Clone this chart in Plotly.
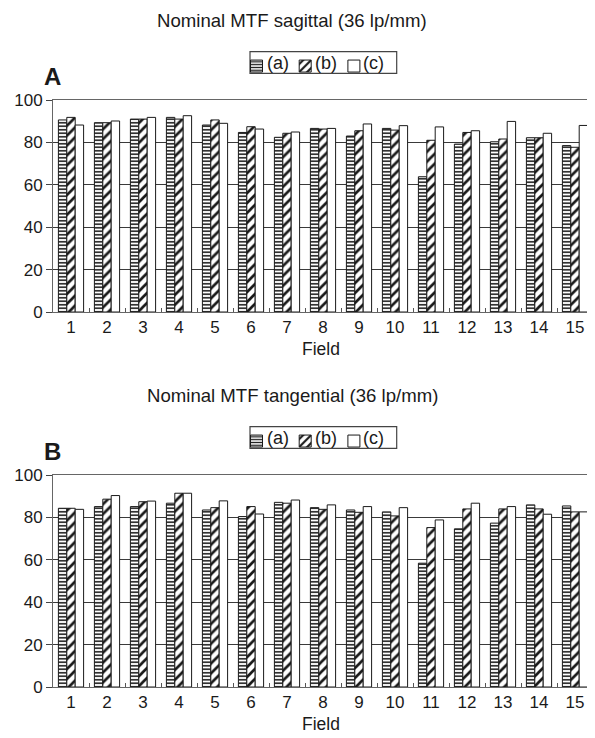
import plotly.graph_objects as go

fields = [str(i) for i in range(1, 16)]
series_names = ["(a)", "(b)", "(c)"]

sag_a = [90.6, 89.3, 91.0, 91.8, 88.2, 84.7, 82.4, 86.6, 83.0, 86.6, 63.8, 79.2, 80.3, 82.2, 78.5]
sag_b = [91.8, 89.3, 91.0, 91.0, 90.6, 87.4, 84.3, 86.3, 85.5, 85.8, 81.0, 84.7, 81.6, 82.2, 77.7]
sag_c = [88.2, 90.1, 91.8, 92.6, 89.0, 86.3, 84.9, 86.6, 88.7, 87.9, 87.3, 85.5, 89.9, 84.3, 88.0]

tan_a = [84.3, 85.1, 85.1, 86.7, 83.5, 80.4, 87.1, 84.6, 83.5, 82.6, 58.4, 74.6, 77.3, 85.9, 85.4]
tan_b = [84.3, 88.6, 87.4, 91.4, 84.6, 85.1, 86.7, 83.8, 82.4, 80.7, 75.2, 84.0, 84.0, 84.0, 82.6]
tan_c = [83.8, 90.3, 87.7, 91.4, 87.8, 81.6, 88.2, 85.9, 85.1, 84.6, 78.8, 86.7, 85.1, 81.5, 82.6]

y_ticks = [0, 20, 40, 60, 80, 100]

FONT = "Liberation Sans, Arial, sans-serif"
INK = "#1a1a1a"
# the page body has an 8px margin, so the figure is drawn 8px smaller and offset
OFF = 8
W, H = 595 - OFF, 738 - OFF


def px(X):
    return (X - OFF) / W


def py(Y):
    return 1 - (Y - OFF) / H


patterns = [
    dict(shape="-", size=3.5, solidity=0.45, fgcolor=INK, bgcolor="white", fillmode="replace"),
    dict(shape="/", size=7, solidity=0.38, fgcolor=INK, bgcolor="white", fillmode="replace"),
    dict(shape="", fgcolor=INK, bgcolor="white"),
]

fig = go.Figure()


def add_group(values, xaxis, yaxis, legend):
    for name, vals, pat in zip(series_names, values, patterns):
        fig.add_trace(go.Bar(
            x=fields, y=vals, name=" ",
            xaxis=xaxis, yaxis=yaxis, legend=legend,
            marker=dict(color="white", pattern=pat, line=dict(color=INK, width=1)),
            hovertemplate=name + " field %{x}: %{y}<extra></extra>",
        ))


add_group([sag_a, sag_b, sag_c], "x", "y", "legend")
add_group([tan_a, tan_b, tan_c], "x2", "y2", "legend2")

x_dom = [px(53), px(593)]
axis_common = dict(
    showline=True, linecolor="#666", linewidth=1, mirror=True,
    tickfont=dict(family=FONT, size=17, color=INK),
)
xcommon = dict(axis_common, type="category", ticks="inside", tickson="boundaries",
               ticklen=4, tickcolor="#555", showgrid=False, automargin=False, fixedrange=True)
ycommon = dict(axis_common, range=[0, 100], tickvals=y_ticks, ticks="outside", ticklen=6,
               tickcolor="#444", showgrid=True, gridcolor="#3a3a3a", gridwidth=1,
               zeroline=False, automargin=False, fixedrange=True)

legend_common = dict(
    orientation="h", xanchor="left", yanchor="top",
    borderwidth=0, bgcolor="rgba(0,0,0,0)",
    font=dict(family=FONT, size=17, color=INK),
    itemwidth=30, entrywidth=3.7, entrywidthmode="pixels", itemclick=False, itemdoubleclick=False,
)

# block offsets: top chart and bottom chart (bottom is shifted by 375 px)
blocks = [0, 375]

annotations = []
shapes = []
titles = ["Nominal MTF sagittal (36 lp/mm)", "Nominal MTF tangential (36 lp/mm)"]
letters = ["A", "B"]
legend_x_text = [264.5, 313.2, 360.5]
for dy, title, letter in zip(blocks, titles, letters):
    annotations.append(dict(text=title, x=px(292), y=py(20 + dy), xref="paper", yref="paper",
                            xanchor="center", yanchor="middle", showarrow=False,
                            font=dict(family=FONT, size=18.6, color=INK)))
    annotations.append(dict(text="<b>" + letter + "</b>", x=px(52.5), y=py(76.5 + dy),
                            xref="paper", yref="paper", xanchor="center", yanchor="middle",
                            showarrow=False, font=dict(family=FONT, size=24, color=INK)))
    annotations.append(dict(text="Field", x=px(321), y=py(349 + dy), xref="paper", yref="paper",
                            xanchor="center", yanchor="middle", showarrow=False,
                            font=dict(family=FONT, size=17.5, color=INK)))
    for name, lx in zip(series_names, legend_x_text):
        annotations.append(dict(text=name, x=px(lx), y=py(63.3 + dy), xref="paper", yref="paper",
                                xanchor="left", yanchor="middle", showarrow=False,
                                font=dict(family=FONT, size=18, color=INK)))
    shapes.append(dict(type="rect", xref="paper", yref="paper",
                       x0=px(250), x1=px(396.7), y0=py(51.7 + dy), y1=py(73.3 + dy),
                       line=dict(color="#444", width=1.2), fillcolor="rgba(0,0,0,0)", layer="below"))

fig.update_layout(
    width=W, height=H,
    margin=dict(l=0, r=0, t=0, b=0),
    paper_bgcolor="white", plot_bgcolor="white",
    barmode="group", bargap=0.3, bargroupgap=0,
    xaxis=dict(xcommon, domain=x_dom, anchor="y"),
    yaxis=dict(ycommon, domain=[py(312), py(100)], anchor="x"),
    xaxis2=dict(xcommon, domain=x_dom, anchor="y2"),
    yaxis2=dict(ycommon, domain=[py(312 + 375), py(100 + 375)], anchor="x2"),
    legend=dict(legend_common, x=px(236.5), y=py(48.5)),
    legend2=dict(legend_common, x=px(236.5), y=py(48.5 + 375)),
    showlegend=True,
    annotations=annotations,
    shapes=shapes,
)

fig.write_html("out.html")
